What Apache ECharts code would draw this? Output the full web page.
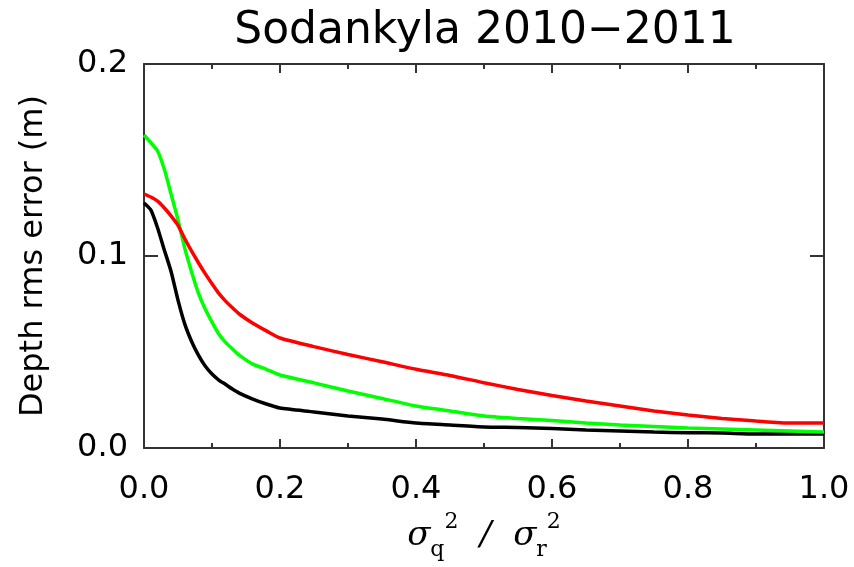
<!DOCTYPE html>
<html>
<head>
<meta charset="utf-8">
<script src="https://cdn.jsdelivr.net/npm/echarts@6/dist/echarts.min.js"></script>
<style>html,body{margin:0;padding:0;background:#fff}#c{width:854px;height:567px}</style>
</head>
<body>
<div id="c"></div>
<script>
const titleText = 'Sodankyla 2010\u22122011';
const yAxisTitle = 'Depth rms error (m)';
const xTickValues = [0.0, 0.2, 0.4, 0.6, 0.8, 1.0];
const yTickValues = [0.0, 0.1, 0.2];
const ratio = [0, 0.01, 0.02, 0.03, 0.04, 0.05, 0.06, 0.07, 0.08, 0.09, 0.10, 0.11, 0.12, 0.13, 0.14, 0.16, 0.18, 0.20, 0.25, 0.30, 0.35, 0.40, 0.45, 0.50, 0.55, 0.60, 0.65, 0.70, 0.75, 0.80, 0.85, 0.90, 0.95, 1.00];
const blackErr = [0.1276, 0.124, 0.1146, 0.103, 0.0917, 0.077, 0.0645, 0.0555, 0.0484, 0.0427, 0.0385, 0.0354, 0.0331, 0.0307, 0.0286, 0.0255, 0.0229, 0.0208, 0.0188, 0.0167, 0.0151, 0.013, 0.012, 0.011, 0.0107, 0.0102, 0.0094, 0.0089, 0.0083, 0.008, 0.0078, 0.0073, 0.0073, 0.0073];
const greenErr = [0.163, 0.159, 0.1547, 0.145, 0.132, 0.1188, 0.104, 0.0917, 0.0807, 0.0724, 0.0656, 0.0594, 0.055, 0.0516, 0.0484, 0.0437, 0.041, 0.038, 0.0339, 0.0297, 0.0258, 0.0219, 0.0193, 0.0167, 0.0154, 0.0143, 0.013, 0.012, 0.0112, 0.0104, 0.0099, 0.0094, 0.0089, 0.0083];
const redErr = [0.1323, 0.1307, 0.1286, 0.125, 0.1208, 0.116, 0.109, 0.1025, 0.0965, 0.0908, 0.0855, 0.0805, 0.0765, 0.073, 0.0698, 0.065, 0.061, 0.0573, 0.0528, 0.0487, 0.0449, 0.041, 0.0378, 0.034, 0.0305, 0.0273, 0.0245, 0.0219, 0.0193, 0.0172, 0.0154, 0.0141, 0.013, 0.013];

const pair = (xs, ys) => xs.map((x, i) => [x, ys[i]]);
const axisCol = '#333';
const xBase = {
  type: 'value', min: xTickValues[0], max: xTickValues[xTickValues.length - 1],
  interval: xTickValues[1] - xTickValues[0],
  axisLine: {show: true, onZero: false, lineStyle: {color: axisCol, width: 2}},
  axisTick: {show: true, inside: true, length: 9, lineStyle: {color: axisCol, width: 2}},
  minorTick: {show: true, splitNumber: 2, length: 5, lineStyle: {color: axisCol, width: 2}},
  splitLine: {show: false}, minorSplitLine: {show: false}
};
const yBase = {
  type: 'value', min: yTickValues[0], max: yTickValues[yTickValues.length - 1],
  interval: yTickValues[1] - yTickValues[0],
  axisLine: {show: true, onZero: false, lineStyle: {color: axisCol, width: 2}},
  axisTick: {show: true, inside: true, length: 14, lineStyle: {color: axisCol, width: 2}},
  splitLine: {show: false}
};
const chart = echarts.init(document.getElementById('c'), null, {renderer: 'canvas'});
chart.setOption({
  animation: false,
  backgroundColor: '#fff',
  title: {
    text: titleText, left: 480, textAlign: 'center', top: 5,
    textStyle: {fontFamily: 'DejaVu Sans', fontSize: 44, fontWeight: 'normal', color: '#000'}
  },
  grid: {left: 144, right: 30, top: 64, bottom: 119, containLabel: false},
  xAxis: [
    Object.assign({}, xBase, {
      position: 'bottom',
      axisLabel: {show: true, margin: 26, fontFamily: 'DejaVu Sans', fontSize: 32, color: '#000',
        formatter: v => v.toFixed(1)},
      name: '{s|\u03C3}{b|q}{p|2}{s|  /  \u03C3}{b|r}{p|2}',
      nameLocation: 'middle', nameGap: 62,
      nameTextStyle: {
        rich: {
          s: {fontFamily: 'DejaVu Serif', fontSize: 34, fontStyle: 'italic', color: '#000', lineHeight: 50, verticalAlign: 'middle'},
          b: {fontFamily: 'DejaVu Serif', fontSize: 22, color: '#000', lineHeight: 50, verticalAlign: 'bottom'},
          p: {fontFamily: 'DejaVu Serif', fontSize: 22, color: '#000', lineHeight: 50, verticalAlign: 'top'}
        }
      }
    }),
    Object.assign({}, xBase, {position: 'top', axisLabel: {show: false}})
  ],
  yAxis: [
    Object.assign({}, yBase, {
      position: 'left',
      axisLabel: {show: true, margin: 16, fontFamily: 'DejaVu Sans', fontSize: 32, color: '#000',
        formatter: v => v.toFixed(1)},
      name: yAxisTitle, nameLocation: 'middle', nameGap: 94,
      nameTextStyle: {fontFamily: 'DejaVu Sans', fontSize: 32, color: '#000'}
    }),
    Object.assign({}, yBase, {position: 'right', axisLabel: {show: false}})
  ],
  series: [
    {type: 'line', data: pair(ratio, blackErr), xAxisIndex: 0, yAxisIndex: 0, showSymbol: false, symbol: 'none', smooth: 0.2,
      lineStyle: {color: '#000000', width: 3.5}, itemStyle: {color: '#000000'}},
    {type: 'line', data: pair(ratio, greenErr), xAxisIndex: 0, yAxisIndex: 0, showSymbol: false, symbol: 'none', smooth: 0.2,
      lineStyle: {color: '#00ff00', width: 3.5}, itemStyle: {color: '#00ff00'}},
    {type: 'line', data: pair(ratio, redErr), xAxisIndex: 0, yAxisIndex: 0, showSymbol: false, symbol: 'none', smooth: 0.2,
      lineStyle: {color: '#ff0000', width: 3.5}, itemStyle: {color: '#ff0000'}}
  ]
});
</script>
</body>
</html>
